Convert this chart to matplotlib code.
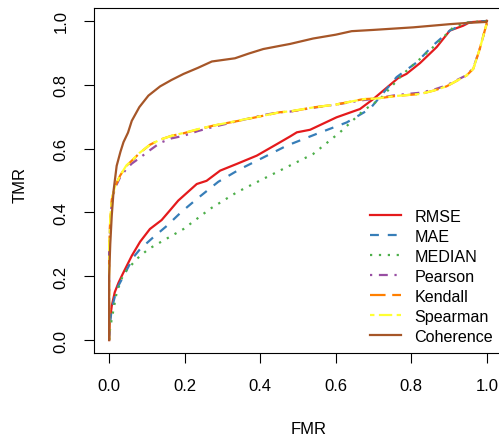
import matplotlib
matplotlib.use("Agg")
import matplotlib.pyplot as plt

plt.rcParams['font.family'] = ['Liberation Sans', 'DejaVu Sans']

names = ["RMSE", "MAE", "MEDIAN", "Pearson", "Kendall", "Spearman", "Coherence"]
colors = ["#E41A1C", "#377EB8", "#4DAF4A", "#984EA3", "#FF7F00", "#FFFF33", "#A65628"]
styles = ["-", (0, (4, 4)), (0, (1, 3)), (0, (1, 3, 4, 3)), (0, (7, 3)), (0, (2, 2, 6, 2)), "-"]

rmse_x = [0, 0.002, 0.007, 0.015, 0.025, 0.038, 0.06, 0.082, 0.108, 0.139, 0.16, 0.183, 0.232, 0.258,
          0.294, 0.338, 0.391, 0.444, 0.479, 0.497, 0.532, 0.602, 0.664, 0.699, 0.765, 0.787, 0.823,
          0.867, 0.902, 0.937, 0.955, 1]
rmse_y = [0, 0.06, 0.107, 0.15, 0.18, 0.212, 0.264, 0.308, 0.348, 0.376, 0.405, 0.437, 0.489, 0.499,
          0.531, 0.552, 0.578, 0.614, 0.638, 0.651, 0.659, 0.698, 0.724, 0.755, 0.821, 0.834, 0.868,
          0.918, 0.97, 0.985, 0.996, 1]

mae_x = [0, 0.002, 0.007, 0.02, 0.038, 0.064, 0.082, 0.115, 0.153, 0.19, 0.232, 0.289, 0.347, 0.408,
         0.47, 0.549, 0.629, 0.69, 0.761, 0.814, 0.858, 0.902, 0.946, 1]
mae_y = [0, 0.05, 0.097, 0.16, 0.2, 0.259, 0.285, 0.32, 0.358, 0.4, 0.442, 0.496, 0.536, 0.572,
         0.609, 0.646, 0.682, 0.724, 0.824, 0.87, 0.924, 0.97, 0.994, 1]

median_x = [0, 0.002, 0.007, 0.02, 0.038, 0.073, 0.104, 0.135, 0.197, 0.267, 0.338, 0.408, 0.452,
            0.479, 0.54, 0.611, 0.673, 0.717, 0.778, 0.823, 0.867, 0.911, 0.946, 1]
median_y = [0, 0.03, 0.066, 0.149, 0.207, 0.254, 0.285, 0.306, 0.348, 0.411, 0.463, 0.505, 0.531,
            0.547, 0.583, 0.651, 0.719, 0.755, 0.834, 0.881, 0.928, 0.98, 0.995, 1]

corr_x = [0, 0.0, 0.003, 0.007, 0.015, 0.029, 0.045, 0.06, 0.08, 0.108, 0.135, 0.165, 0.197, 0.235,
          0.276, 0.347, 0.408, 0.452, 0.479, 0.54, 0.6, 0.673, 0.708, 0.76, 0.823, 0.86, 0.893, 0.946,
          0.964, 0.981, 0.999, 1]
pearson_y = [0, 0.28, 0.37, 0.43, 0.475, 0.51, 0.535, 0.553, 0.57, 0.595, 0.618, 0.632, 0.64, 0.655,
             0.668, 0.688, 0.705, 0.714, 0.716, 0.728, 0.738, 0.752, 0.757, 0.768, 0.775, 0.785, 0.798,
             0.83, 0.852, 0.912, 0.99, 1]
kendall_y = [0, 0.285, 0.38, 0.44, 0.48, 0.515, 0.545, 0.562, 0.585, 0.612, 0.628, 0.64, 0.648, 0.66,
             0.672, 0.688, 0.703, 0.714, 0.716, 0.729, 0.738, 0.755, 0.757, 0.765, 0.771, 0.782, 0.795,
             0.829, 0.85, 0.912, 0.99, 1]
spearman_y = [0, 0.285, 0.38, 0.44, 0.48, 0.515, 0.546, 0.563, 0.586, 0.612, 0.628, 0.64, 0.649, 0.661,
              0.672, 0.689, 0.703, 0.714, 0.717, 0.729, 0.738, 0.755, 0.757, 0.765, 0.771, 0.782, 0.795,
              0.829, 0.85, 0.912, 0.99, 1]

coh_x = [0, 0.0, 0.003, 0.007, 0.012, 0.02, 0.03, 0.038, 0.05, 0.06, 0.08, 0.104, 0.135, 0.165, 0.197,
         0.235, 0.272, 0.333, 0.37, 0.408, 0.452, 0.479, 0.54, 0.6, 0.642, 0.7, 0.805, 0.902, 0.95,
         0.999, 1]
coh_y = [0, 0.2, 0.3, 0.39, 0.47, 0.546, 0.59, 0.62, 0.65, 0.687, 0.73, 0.766, 0.795, 0.815, 0.834,
         0.853, 0.873, 0.883, 0.898, 0.912, 0.922, 0.928, 0.945, 0.957, 0.968, 0.972, 0.98, 0.99, 0.994,
         0.997, 1]

series_x = [rmse_x, mae_x, median_x, corr_x, corr_x, corr_x, coh_x]
series_y = [rmse_y, mae_y, median_y, pearson_y, kendall_y, spearman_y, coh_y]

ticks = [0.0, 0.2, 0.4, 0.6, 0.8, 1.0]
tick_labels = ["0.0", "0.2", "0.4", "0.6", "0.8", "1.0"]

W, H = 499, 439
fig = plt.figure(figsize=(W / 100, H / 100), dpi=100)
ax = fig.add_axes([94 / W, 1 - 353.8 / H, 408 / W, 344.6 / H])

for xs, ys, n, c, s in zip(series_x, series_y, names, colors, styles):
    ax.plot(xs, ys, color=c, linestyle=s, linewidth=1.6, label=n)

ax.set_xlim(-0.04, 1.04)
ax.set_ylim(-0.04, 1.04)
ax.set_xticks(ticks)
ax.set_xticklabels(tick_labels)
ax.set_yticks(ticks)
ax.set_yticklabels(tick_labels, rotation=90, va='center')
ax.tick_params(direction='out', length=7.2, width=0.8, labelsize=12, pad=11)
for sp in ax.spines.values():
    sp.set_linewidth(0.8)

fig.text(309 / W, 1 - 430 / H, "FMR", ha='center', va='center', fontsize=12)
fig.text(20 / W, 1 - 185 / H, "TMR", ha='center', va='center', fontsize=12, rotation=90)

leg = ax.legend(loc='upper left', bbox_to_anchor=(370 / W, 1 - 209.8 / H),
                bbox_transform=fig.transFigure, frameon=False, fontsize=11.6,
                handlelength=1.95, handletextpad=0.8, labelspacing=0.31, borderpad=0,
                borderaxespad=0)

fig.savefig("out.png", dpi=100)
